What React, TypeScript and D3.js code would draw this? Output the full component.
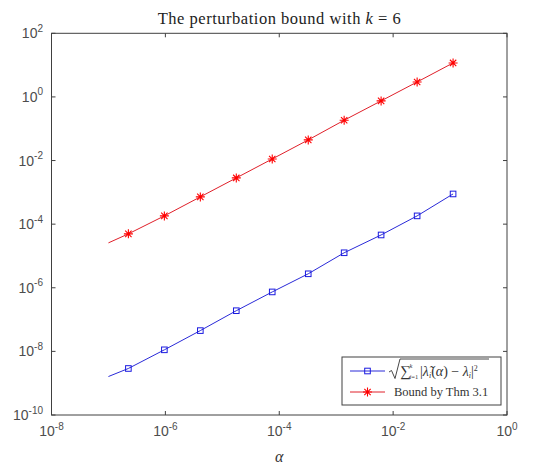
import * as d3 from 'd3';
import React, { useRef, useEffect } from 'react';

// alpha values (first point has no marker)
const alpha = [1e-7, 2.24e-7, 9.6e-7, 4.11e-6, 1.76e-5, 7.53e-5, 3.23e-4, 1.38e-3, 6.15e-3, 2.64e-2, 1.13e-1];
const eigErr = [1.62e-9, 2.9e-9, 1.12e-8, 4.5e-8, 1.9e-7, 7.4e-7, 2.75e-6, 1.26e-5, 4.57e-5, 1.82e-4, 8.9e-4];
const thmBound = [2.58e-5, 4.95e-5, 1.82e-4, 7.2e-4, 2.84e-3, 1.12e-2, 4.45e-2, 1.85e-1, 7.5e-1, 2.95, 11.7];
const xTickExp = [-8, -6, -4, -2, 0];
const yTickExp = [-10, -8, -6, -4, -2, 0, 2];

const W = 547, H = 466;
const L = 51.5, R = 507, T = 33.3, B = 415;
const axisCol = '#404040';

function PerturbChart() {
    const ref = useRef<SVGSVGElement>(null);

    useEffect(() => {
        const svg = d3.select(ref.current);
        svg.selectAll('*').remove();

        const x = d3.scaleLog().domain([1e-8, 1]).range([L, R]);
        const y = d3.scaleLog().domain([1e-10, 1e2]).range([B, T]);

        svg.append('rect').attr('x', 0).attr('y', 0).attr('width', W).attr('height', H).attr('fill', 'white');

        // title
        svg.append('text')
            .attr('x', (L + R) / 2).attr('y', 24)
            .attr('text-anchor', 'middle')
            .attr('font-family', 'Liberation Serif')
            .attr('font-size', 16.5)
            .attr('textLength', 243)
            .attr('fill', '#222')
            .html('The perturbation bound with <tspan font-style="italic">k</tspan> = 6');

        // x label
        svg.append('text')
            .attr('x', (L + R) / 2).attr('y', 462)
            .attr('text-anchor', 'middle')
            .attr('font-family', 'Liberation Serif')
            .attr('font-style', 'italic')
            .attr('font-size', 16)
            .attr('fill', '#333')
            .text('α');

        // ticks (inside, on all four sides)
        const g = svg.append('g').attr('stroke', axisCol).attr('stroke-width', 1);
        xTickExp.forEach(e => {
            const px = x(Math.pow(10, e));
            g.append('line').attr('x1', px).attr('x2', px).attr('y1', B).attr('y2', B - 4);
            g.append('line').attr('x1', px).attr('x2', px).attr('y1', T).attr('y2', T + 4);
        });
        yTickExp.forEach(e => {
            const py = y(Math.pow(10, e));
            g.append('line').attr('x1', L).attr('x2', L + 4).attr('y1', py).attr('y2', py);
            g.append('line').attr('x1', R).attr('x2', R - 4).attr('y1', py).attr('y2', py);
        });

        // tick labels
        const lab = svg.append('g')
            .attr('font-family', 'Liberation Sans, Arial, sans-serif')
            .attr('fill', '#4d4d4d');
        xTickExp.forEach(e => {
            lab.append('text')
                .attr('x', x(Math.pow(10, e))).attr('y', 436)
                .attr('text-anchor', 'middle')
                .attr('font-size', 14)
                .html(`10<tspan dy="-6.5" font-size="10">${e === 0 ? '0' : e}</tspan>`);
        });
        yTickExp.forEach(e => {
            lab.append('text')
                .attr('x', 43).attr('y', y(Math.pow(10, e)) + 5)
                .attr('text-anchor', 'end')
                .attr('font-size', 14)
                .html(`10<tspan dy="-6.5" font-size="10">${e}</tspan>`);
        });

        // lines
        const line = d3.line<[number, number]>().x(d => x(d[0])).y(d => y(d[1]));
        const blue = alpha.map((a, i) => [a, eigErr[i]] as [number, number]);
        const red = alpha.map((a, i) => [a, thmBound[i]] as [number, number]);

        svg.append('path').attr('d', line(red)).attr('fill', 'none').attr('stroke', '#e0202a').attr('stroke-width', 1);
        svg.append('path').attr('d', line(blue)).attr('fill', 'none').attr('stroke', '#2a2ad8').attr('stroke-width', 1);

        const star = (sel: any, cx: number, cy: number, r: number) => {
            const d = [0, 45, 90, 135].map(a => {
                const rad = a * Math.PI / 180;
                const dx = Math.cos(rad) * r, dy = Math.sin(rad) * r;
                return `M${cx - dx},${cy - dy}L${cx + dx},${cy + dy}`;
            }).join('');
            sel.append('path').attr('d', d).attr('stroke', '#ff0000').attr('stroke-width', 1.1).attr('fill', 'none');
        };

        const mk = svg.append('g');
        red.forEach((d, i) => {
            if (i === 0) return;
            star(mk, x(d[0]), y(d[1]), 4.5);
        });
        blue.forEach((d, i) => {
            if (i === 0) return;
            mk.append('rect')
                .attr('x', x(d[0]) - 2.8).attr('y', y(d[1]) - 2.8)
                .attr('width', 5.6).attr('height', 5.6)
                .attr('fill', 'none').attr('stroke', '#1a1ae0').attr('stroke-width', 1);
        });

        // axes box
        svg.append('rect').attr('x', L).attr('y', T).attr('width', R - L).attr('height', B - T)
            .attr('fill', 'none').attr('stroke', axisCol).attr('stroke-width', 1);

        // legend
        const lg = svg.append('g');
        const lx = 342, ly = 357, lw = 159, lh = 48;
        lg.append('rect').attr('x', lx).attr('y', ly).attr('width', lw).attr('height', lh)
            .attr('fill', 'white').attr('stroke', axisCol).attr('stroke-width', 1);

        const r1 = ly + 14, r2 = ly + 35;
        lg.append('line').attr('x1', lx + 8).attr('x2', lx + 43).attr('y1', r1).attr('y2', r1).attr('stroke', '#2a2ad8');
        lg.append('rect').attr('x', lx + 25.5 - 2.8).attr('y', r1 - 2.8).attr('width', 5.6).attr('height', 5.6)
            .attr('fill', 'none').attr('stroke', '#1a1ae0');
        lg.append('line').attr('x1', lx + 8).attr('x2', lx + 43).attr('y1', r2).attr('y2', r2).attr('stroke', '#e0202a');
        star(lg, lx + 25.5, r2, 4.5);

        // sqrt of sum formula
        const fx = lx + 47;
        lg.append('path')
            .attr('d', `M${fx},${r1 + 1}l2.5,-1.5l3.5,8l5,-19.5h89`)
            .attr('fill', 'none').attr('stroke', '#333').attr('stroke-width', 0.9);
        const ft = lg.append('text')
            .attr('font-family', 'Liberation Serif')
            .attr('fill', '#333');
        ft.append('tspan').attr('x', fx + 11).attr('y', r1 + 5).attr('font-size', 15).text('∑');
        ft.append('tspan').attr('x', fx + 20.5).attr('y', r1 - 3).attr('font-size', 6.5).attr('font-style', 'italic').text('k');
        ft.append('tspan').attr('x', fx + 20.5).attr('y', r1 + 7.5).attr('font-size', 6.5).html('<tspan font-style="italic">i</tspan>=1');
        const body = lg.append('text')
            .attr('x', fx + 31).attr('y', r1 + 4.5)
            .attr('font-family', 'Liberation Serif')
            .attr('fill', '#333')
            .attr('font-size', 14);
        body.html('|<tspan font-style="italic">λ̃</tspan><tspan font-size="8" dy="2" font-style="italic">i</tspan><tspan dy="-2">(</tspan><tspan font-style="italic">α</tspan>) − <tspan font-style="italic">λ</tspan><tspan font-size="8" dy="2" font-style="italic">i</tspan><tspan dy="-2">|</tspan><tspan font-size="8" dy="-5">2</tspan>');

        lg.append('text')
            .attr('x', fx + 5).attr('y', r2 + 4)
            .attr('font-family', 'Liberation Serif')
            .attr('font-size', 12.5)
            .attr('fill', '#333')
            .text('Bound by Thm 3.1');
    }, []);

    return (
        <svg ref={ref} width={W} height={H} style={{ position: 'absolute', left: 0, top: 0 }}></svg>
    );
}

export default function App() {
    return (
        <div className="chart">
            <PerturbChart />
        </div>
    );
}
